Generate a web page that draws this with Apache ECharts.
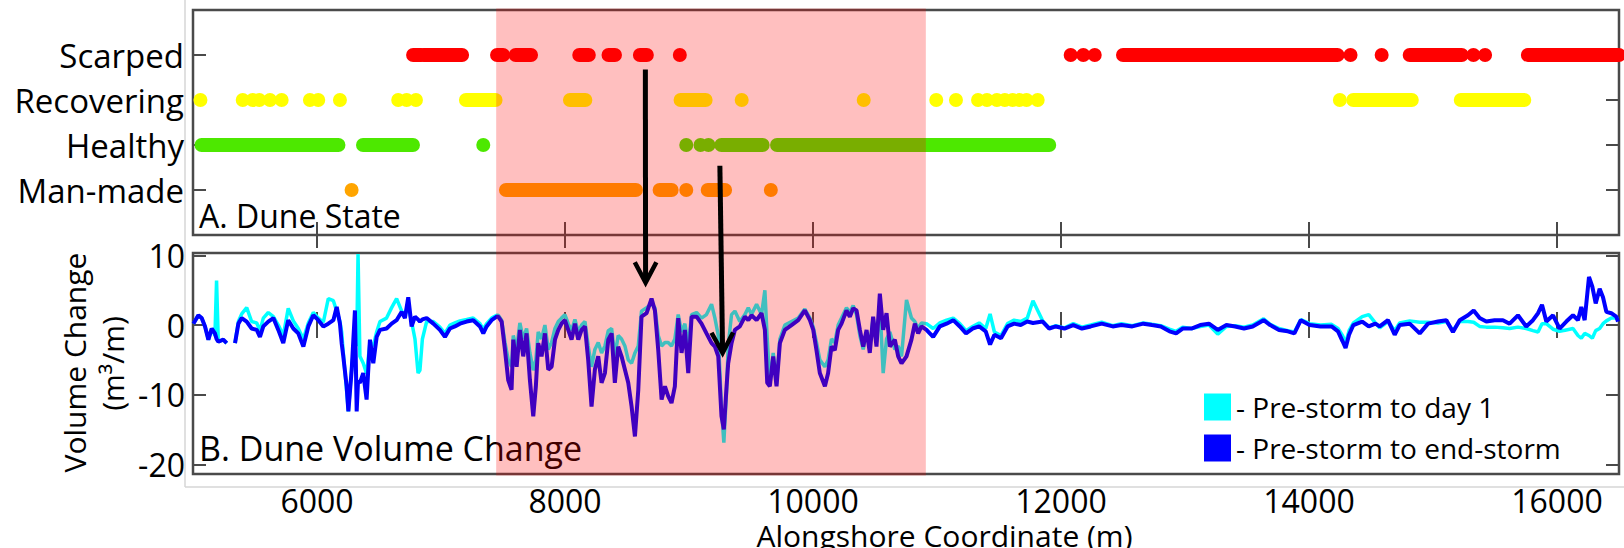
<!DOCTYPE html>
<html>
<head>
<meta charset="utf-8">
<title>Dune state and dune volume change</title>
<script src="https://cdn.jsdelivr.net/npm/echarts@6.0.0/dist/echarts.min.js"></script>
<style>
  html, body { margin: 0; padding: 0; background: #ffffff; }
  #chart { width: 1624px; height: 548px; }
</style>
</head>
<body>
<div id="chart"></div>
<script>
// ---------------------------------------------------------------------------
// A. Dune state: stretches of shoreline (start, end in m, point centres)
// ---------------------------------------------------------------------------
const stateNames = ['Man-made', 'Healthy', 'Recovering', 'Scarped'];
const stateColors = ['#ffa500', '#4de800', '#ffff00', '#ff0000'];

const manMadeRuns = [
  [6279, 6279], [7524, 8572], [8763, 8860], [8978, 8978], [9151, 9291], [9660, 9660]
];
const healthyRuns = [
  [5069, 6173], [6371, 6774], [7341, 7341], [8978, 8978], [9093, 9093], [9157, 9157],
  [9261, 9594], [9710, 11905]
];
const recoveringRuns = [
  [5060, 5060], [5401, 5401], [5481, 5481], [5535, 5535], [5621, 5621], [5715, 5715],
  [5943, 5943], [6010, 6010], [6185, 6185], [6655, 6655], [6723, 6723], [6798, 6798],
  [7201, 7440], [8040, 8164], [8932, 9134], [9425, 9425], [10409, 10409],
  [10994, 10994], [11153, 11153], [11331, 11331], [11403, 11403], [11483, 11483],
  [11547, 11547], [11610, 11610], [11665, 11665], [11722, 11722], [11812, 11812],
  [14249, 14249], [14357, 14829], [15224, 15736]
];
const scarpedRuns = [
  [6775, 6840], [6860, 7170], [7452, 7501], [7602, 7726], [8115, 8192], [8351, 8403],
  [8604, 8660], [8926, 8926], [12078, 12078], [12180, 12180], [12272, 12272],
  [12500, 14230], [14335, 14335], [14586, 14586], [14812, 15232], [15326, 15326],
  [15420, 15420], [15765, 16500]
];

// ---------------------------------------------------------------------------
// B. Dune volume change (m^3/m) along the shore
// ---------------------------------------------------------------------------
const alongshore = [
  5003, 5043, 5070, 5097, 5124, 5151, 5177, 5190, 5204, 5244,
  5272, 5300, 5339, 5366, 5393, 5433, 5473, 5514, 5540, 5567,
  5607, 5648, 5688, 5728, 5768, 5809, 5849, 5890, 5930, 5970,
  6011, 6051, 6091, 6132, 6159, 6185, 6199, 6212, 6239, 6253,
  6280, 6306, 6320, 6331, 6346, 6373, 6400, 6427, 6454, 6481,
  6508, 6561, 6602, 6642, 6683, 6709, 6736, 6763, 6790, 6815,
  6830, 6850, 6884, 6938, 6991, 7032, 7072, 7112, 7153, 7207,
  7260, 7314, 7341, 7368, 7408, 7449, 7462, 7489, 7516, 7542,
  7569, 7583, 7610, 7636, 7663, 7690, 7717, 7744, 7765, 7784,
  7811, 7838, 7865, 7892, 7919, 7946, 7972, 7999, 8026, 8053,
  8080, 8107, 8134, 8161, 8187, 8214, 8241, 8268, 8295, 8322,
  8349, 8376, 8402, 8429, 8456, 8483, 8510, 8537, 8564, 8591,
  8617, 8658, 8698, 8725, 8752, 8779, 8806, 8832, 8859, 8886,
  8913, 8940, 8967, 8994, 9021, 9061, 9101, 9141, 9182, 9209,
  9236, 9262, 9281, 9303, 9316, 9343, 9370, 9410, 9451, 9478,
  9504, 9545, 9585, 9612, 9631, 9652, 9679, 9706, 9733, 9773,
  9827, 9881, 9934, 9975, 10002, 10028, 10055, 10096, 10122, 10149,
  10176, 10203, 10230, 10270, 10297, 10324, 10351, 10378, 10405, 10432,
  10458, 10485, 10512, 10539, 10566, 10593, 10620, 10660, 10687, 10714,
  10754, 10794, 10821, 10848, 10875, 10915, 10969, 11023, 11077, 11131,
  11184, 11234, 11287, 11340, 11393, 11428, 11463, 11516, 11569, 11622,
  11675, 11728, 11774, 11852, 11905, 11958, 12028, 12099, 12169, 12240,
  12328, 12417, 12487, 12575, 12664, 12734, 12805, 12875, 12928, 12981,
  13052, 13123, 13193, 13264, 13334, 13405, 13476, 13546, 13634, 13687,
  13758, 13829, 13882, 13934, 14005, 14093, 14182, 14234, 14270, 14295,
  14323, 14358, 14429, 14482, 14535, 14570, 14637, 14691, 14731, 14812,
  14893, 14960, 15040, 15108, 15161, 15215, 15282, 15328, 15376, 15430,
  15497, 15564, 15618, 15685, 15752, 15806, 15847, 15879, 15914, 15968,
  16021, 16075, 16129, 16169, 16196, 16223, 16258, 16285, 16312, 16344,
  16371, 16398, 16438, 16478, 16492
];

// Pre-storm to day 1
const preToDay1 = [
  0.2, 1.4, 1.0, -0.2, -2.1, -0.5, -1.5, 6.4, -2.4, -2.1,
  -2.6, null, -2.6, 0.5, 1.6, 2.5, 0.5, 0.3, -0.8, 1.0,
  1.8, 1.2, 0.0, -1.5, 2.4, 0.6, -0.5, -2.0, 0.3, 1.8,
  1.0, 0.4, 3.8, 3.5, 2.0, 0.5, -1.0, -4.0, -9.5, -12.4,
  -6.0, -2.0, -3.0, 10.2, -4.5, -5.5, -7.0, -2.5, -3.0, -1.0,
  0.5, 1.0, 2.5, 3.8, 2.0, 1.5, 2.5, 0.5, -2.0, -6.9,
  -6.5, -2.0, 0.5, 0.5, -0.3, -1.2, 0.0, 0.3, 0.6, 0.8,
  1.0, 0.2, -0.6, 0.2, 1.0, 1.4, 1.4, 0.7, -2.5, -5.0,
  -6.0, -1.5, -3.5, 0.3, -2.0, -0.5, -4.0, -6.5, -5.0, -1.0,
  -2.0, 0.0, -3.5, -2.5, -0.5, 0.5, 1.0, 1.5, 0.2, -0.8,
  0.8, -1.0, 0.0, 0.5, -3.0, -6.0, -3.5, -2.5, -4.0, -3.0,
  -0.8, -0.5, -4.5, -1.5, -2.0, -3.0, -5.0, -5.5, -4.0, -3.0,
  2.0, 2.5, 3.0, 2.5, -1.5, -3.0, -2.5, -2.5, -3.0, -2.0,
  1.5, -1.0, 0.2, -3.0, 1.5, 1.8, 1.0, 1.5, 3.0, 1.0,
  -1.5, -12.0, -16.9, -9.5, -3.0, 1.5, 2.0, 0.5, 1.5, 2.5,
  1.5, 3.0, 1.5, 5.0, -2.0, -8.5, -4.0, -8.5, -2.0, 0.0,
  0.5, 1.0, 2.3, 1.0, -0.3, -2.5, -5.0, -6.0, -5.0, -2.0,
  -2.5, 0.0, 1.0, 2.5, 1.8, 2.8, 1.5, -1.5, -3.5, -1.0,
  -3.0, 1.0, -2.5, 3.0, -6.9, -2.0, -1.0, -3.5, -3.0, -4.5,
  3.6, 1.0, 0.5, -0.5, 0.3, 0.2, -0.5, 0.3, 0.7, 1.0,
  0.2, -0.8, -0.2, 0.3, -0.5, 1.6, -1.0, -1.5, 0.2, 0.7,
  0.5, 1.0, 3.5, 0.6, -0.4, -0.1, -0.4, 0.2, -0.3, 0.0,
  0.4, -0.1, 0.2, -0.1, 0.3, 0.1, -0.1, -0.6, -0.9, -0.3,
  -0.5, -0.2, 0.0, -1.3, -0.2, -0.1, -0.3, 0.0, 0.9, 0.1,
  -0.5, -0.8, -1.0, 0.8, 0.2, 0.0, 0.1, -0.5, -1.5, -2.6,
  -0.8, 0.3, 1.2, 1.5, 0.3, -0.4, 0.5, -0.8, 0.3, 0.6,
  0.4, 0.4, 0.3, 0.5, -0.8, 0.5, 0.5, 0.4, -0.2, -0.3,
  -0.3, -0.4, -0.5, -0.3, -0.5, -0.8, -1.0, 0.2, 0.2, -0.6,
  -0.9, -0.7, -0.5, -1.5, -1.9, -1.2, -1.5, -1.9, -0.8, -0.5,
  0.2, 0.6, 1.0, 1.0, 0.8
];

// Pre-storm to end-storm
const preToEndStorm = [
  0.2, 1.4, 1.0, -0.2, -2.1, -0.5, -1.2, -2.0, -2.4, -2.1,
  -2.6, null, -2.6, 0.2, 1.0, 0.5, -0.5, -0.7, -1.7, -0.2,
  0.5, 1.0, -0.7, -2.6, 0.7, -0.5, -1.2, -3.1, -0.2, 1.4,
  0.7, -0.2, 0.2, 0.7, 2.6, 0.2, -2.6, -4.5, -8.8, -12.4,
  -6.4, 2.1, -12.4, -8.0, -8.3, -6.9, -10.7, -2.1, -5.5, -1.7,
  -0.7, -0.5, 0.2, 0.7, 1.9, 1.0, 4.0, -0.2, 1.2, 0.8,
  0.5, 0.8, 1.0, 0.2, -0.7, -1.7, -0.5, -0.2, 0.2, 0.5,
  0.7, -0.2, -1.2, -0.2, 0.7, 1.2, 1.2, 0.5, -3.6, -7.9,
  -9.3, -2.1, -6.0, -0.7, -4.5, -1.2, -7.9, -13.1, -8.8, -2.6,
  -4.5, -1.2, -6.4, -6.0, -2.1, -0.7, 0.2, 0.7, -0.7, -2.1,
  0.2, -2.1, -0.7, -0.2, -5.0, -11.7, -6.4, -4.5, -8.3, -6.9,
  -2.1, -1.2, -8.3, -3.1, -4.5, -6.4, -8.3, -11.7, -16.0, -9.3,
  1.2, 1.7, 3.8, 2.1, -3.6, -10.7, -8.8, -10.2, -11.2, -8.8,
  1.0, -4.0, -0.7, -6.9, 1.2, 1.2, 0.2, -1.2, -2.6, -3.1,
  -4.5, -13.1, -15.0, -8.8, -5.5, -2.6, -0.7, -0.2, 1.2, 0.7,
  1.4, 0.7, 1.7, -0.7, -8.3, -8.8, -4.5, -8.8, -2.6, -0.7,
  0.0, 0.7, 2.1, 0.7, -0.7, -3.6, -6.9, -8.8, -6.9, -3.1,
  -3.6, -0.7, 0.2, 2.1, 1.2, 2.4, 2.1, -0.7, -3.1, -0.7,
  -4.0, 1.2, -3.1, 4.5, -0.7, 1.7, -3.1, -2.1, -4.5, -5.5,
  -4.5, -2.1, 0.2, -1.2, -0.2, -0.7, -1.7, -0.2, 0.2, 0.7,
  -0.2, -1.2, -0.5, -0.2, -0.9, -2.8, -1.4, -1.9, -0.2, 0.2,
  0.0, 0.5, 0.3, 0.5, -0.5, -0.2, -0.5, 0.0, -0.5, -0.2,
  0.2, -0.2, 0.0, -0.2, 0.2, 0.0, -0.2, -0.9, -1.2, -0.5,
  -0.5, 0.0, 0.2, -0.7, 0.0, -0.2, -0.5, -0.2, 0.7, 0.0,
  -0.7, -0.9, -1.2, 0.7, 0.0, -0.2, -0.2, -0.9, -2.3, -3.3,
  -1.4, 0.0, 0.5, -0.2, 0.2, -0.2, 0.7, -1.4, 0.0, 0.2,
  -1.2, 0.2, 0.5, 0.7, -1.0, 0.7, 1.4, 2.1, 1.0, 0.5,
  0.7, 0.7, 0.2, 1.4, -0.2, 0.7, 1.7, 2.9, 0.5, 1.4,
  -0.5, 0.5, 1.4, 0.7, 2.6, 0.7, 6.9, 5.5, 3.1, 5.2,
  4.0, 1.9, 1.7, 1.2, 0.5
];

const seriesNames = ['Pre-storm to day 1', 'Pre-storm to end-storm'];
const seriesColors = ['#00ffff', '#0000ff'];

// Axis ticks and ranges
const xTicks = [6000, 8000, 10000, 12000, 14000, 16000];
const stateTicks = [1, 2, 3, 4];
const volumeTicks = [-20, -10, 0, 10];
const xRange = [5000, 16500];
const stateRange = [0, 5];
const volumeRange = [-21.4, 10.35];

// Storm-affected stretch (m) and the two annotation arrows
// (start in dune-state units, tip in volume-change units)
const stormZone = [7445, 10910];
const arrowStarts = [[8648, 3.68], [9249, 1.54]];
const arrowTips = [[8650, 6.1], [9271, -4.0]];

// ---------------------------------------------------------------------------
const FONT = "'Open Sans', sans-serif";
const FRAME = '#4a4a4a';
const DOT = 14;

const chart = echarts.init(document.getElementById('chart'), null, {
  renderer: 'svg', width: 1624, height: 548
});

function renderRun(params, api) {
  const a = api.coord([api.value(0), api.value(2)]);
  const b = api.coord([api.value(1), api.value(2)]);
  const r = DOT / 2;
  return {
    type: 'rect',
    shape: { x: a[0] - r, y: a[1] - r, width: b[0] - a[0] + 2 * r, height: 2 * r, r: r },
    style: { fill: api.visual('color') }
  };
}

const tickStyle = { show: true, inside: true, length: 13, lineStyle: { color: FRAME, width: 2 } };

function tickOnly(extra, ticks) {
  return Object.assign({
    type: 'value',
    axisLine: { show: false },
    splitLine: { show: false },
    axisLabel: { show: false },
    axisTick: Object.assign({ customValues: ticks }, tickStyle)
  }, extra);
}

const labelStyle = { color: '#000', fontFamily: FONT };
const plain = v => String(v);

const stateSeries = [manMadeRuns, healthyRuns, recoveringRuns, scarpedRuns].map((runs, i) => ({
  type: 'custom',
  name: stateNames[i],
  coordinateSystem: 'cartesian2d',
  xAxisIndex: 0,
  yAxisIndex: 0,
  itemStyle: { color: stateColors[i] },
  encode: { x: [0, 1], y: 2 },
  data: runs.map(r => [r[0], r[1], i + 1]),
  renderItem: renderRun,
  silent: true,
  z: 2
}));

const volumeSeries = [preToDay1, preToEndStorm].map((vals, i) => ({
  type: 'line',
  name: seriesNames[i],
  xAxisIndex: 2,
  yAxisIndex: 2,
  data: alongshore.map((x, k) => [x, vals[k]]),
  showSymbol: false,
  symbol: 'none',
  connectNulls: false,
  lineStyle: { color: seriesColors[i], width: i === 0 ? 3.5 : 4 },
  itemStyle: { color: seriesColors[i] },
  silent: true,
  z: 2 + i
}));

const option = {
  animation: false,
  backgroundColor: '#ffffff',
  grid: [
    { left: 193, top: 10, width: 1426, height: 225, show: true, borderColor: FRAME, borderWidth: 2.5, backgroundColor: 'transparent' },
    { left: 193, top: 253, width: 1426, height: 221, show: true, borderColor: FRAME, borderWidth: 2.5, backgroundColor: 'transparent' }
  ],
  xAxis: [
    tickOnly({ gridIndex: 0, position: 'bottom', min: xRange[0], max: xRange[1] }, xTicks),
    tickOnly({ gridIndex: 0, position: 'top', min: xRange[0], max: xRange[1] }, xTicks),
    tickOnly({ gridIndex: 1, position: 'bottom', min: xRange[0], max: xRange[1],
      axisLabel: Object.assign({ show: true, fontSize: 32, margin: 10, customValues: xTicks, formatter: plain }, labelStyle) }, xTicks),
    tickOnly({ gridIndex: 1, position: 'top', min: xRange[0], max: xRange[1] }, xTicks)
  ],
  yAxis: [
    tickOnly({ gridIndex: 0, position: 'left', min: stateRange[0], max: stateRange[1],
      axisLabel: Object.assign({ show: true, fontSize: 33, margin: 9, customValues: stateTicks,
        formatter: v => stateNames[Math.round(v) - 1] || '' }, labelStyle) }, stateTicks),
    tickOnly({ gridIndex: 0, position: 'right', min: stateRange[0], max: stateRange[1] }, stateTicks),
    tickOnly({ gridIndex: 1, position: 'left', min: volumeRange[0], max: volumeRange[1],
      axisLabel: Object.assign({ show: true, fontSize: 32, margin: 8, customValues: volumeTicks, formatter: plain }, labelStyle) }, volumeTicks),
    tickOnly({ gridIndex: 1, position: 'right', min: volumeRange[0], max: volumeRange[1] }, volumeTicks)
  ],
  legend: {
    data: seriesNames,
    orient: 'vertical',
    left: 1204,
    top: 393,
    padding: 0,
    itemWidth: 27,
    itemHeight: 27,
    itemGap: 13,
    icon: 'rect',
    selectedMode: false,
    formatter: name => '- ' + name,
    textStyle: { fontSize: 28, fontFamily: FONT, color: '#000' }
  },
  series: stateSeries.concat(volumeSeries)
};

chart.setOption(option);

// Annotations placed through the axes' own scales
const px = v => chart.convertToPixel({ xAxisIndex: 0 }, v);
const pyState = v => chart.convertToPixel({ yAxisIndex: 0 }, v);
const pyVolume = v => chart.convertToPixel({ yAxisIndex: 2 }, v);

function textEl(text, x, y, size, align, rotation, lineHeight) {
  const style = {
    text: text, fontSize: size, fontFamily: FONT, fill: '#000',
    align: align, verticalAlign: 'middle', textAlign: align, textVerticalAlign: 'middle'
  };
  if (lineHeight) style.lineHeight = lineHeight;
  return { type: 'text', x: x, y: y, rotation: rotation || 0, z: 5, silent: true, style: style };
}

const graphics = [];

// light outline of the figure area
graphics.push({ type: 'line', z: 0, silent: true, shape: { x1: 185, y1: 0, x2: 185, y2: 487 }, style: { stroke: '#d6d6d6', lineWidth: 1.5 } });
graphics.push({ type: 'line', z: 0, silent: true, shape: { x1: 185, y1: 487, x2: 1624, y2: 487 }, style: { stroke: '#d6d6d6', lineWidth: 1.5 } });

// panel titles and axis names
graphics.push(textEl('A. Dune State', 199, 215, 32, 'left'));
graphics.push(textEl('B. Dune Volume Change', 199, 448, 34, 'left'));
graphics.push(textEl('Volume Change', 74, 362.5, 30, 'center', Math.PI / 2));
graphics.push(textEl('(m³/m)', 112, 363.5, 30, 'center', Math.PI / 2));
graphics.push(textEl('Alongshore Coordinate (m)', 944.5, 535, 30, 'center', 0, 26));

// storm-affected stretch, tinted over both panels
const zx0 = px(stormZone[0]);
const zx1 = px(stormZone[1]);
const zy0 = pyState(stateRange[1]);
const zy1 = pyVolume(volumeRange[0]);
graphics.push({
  type: 'rect', z: 10, silent: true,
  shape: { x: zx0, y: zy0 - 1.5, width: zx1 - zx0, height: zy1 - zy0 + 3 },
  style: { fill: 'rgba(255,0,0,0.25)' }
});

// arrows from the dune state to the volume change
arrowStarts.forEach((s, i) => {
  const p1 = [px(s[0]), pyState(s[1])];
  const p2 = [px(arrowTips[i][0]), pyVolume(arrowTips[i][1])];
  const dx = p2[0] - p1[0], dy = p2[1] - p1[1];
  const len = Math.hypot(dx, dy);
  const ux = dx / len, uy = dy / len;
  const head = 23, ang = 28 * Math.PI / 180;
  const arm = sgn => {
    const c = Math.cos(sgn * ang), sn = Math.sin(sgn * ang);
    const bx = -ux, by = -uy;
    return [p2[0] + head * (bx * c - by * sn), p2[1] + head * (bx * sn + by * c)];
  };
  graphics.push({
    type: 'line', z: 11, silent: true,
    shape: { x1: p1[0], y1: p1[1], x2: p2[0] - ux * 2, y2: p2[1] - uy * 2 },
    style: { stroke: '#000', lineWidth: 5 }
  });
  graphics.push({
    type: 'polyline', z: 11, silent: true,
    shape: { points: [arm(1), p2, arm(-1)] },
    style: { stroke: '#000', lineWidth: 4.5, fill: null, lineJoin: 'miter' }
  });
});

chart.setOption({ graphic: graphics });
</script>
</body>
</html>
